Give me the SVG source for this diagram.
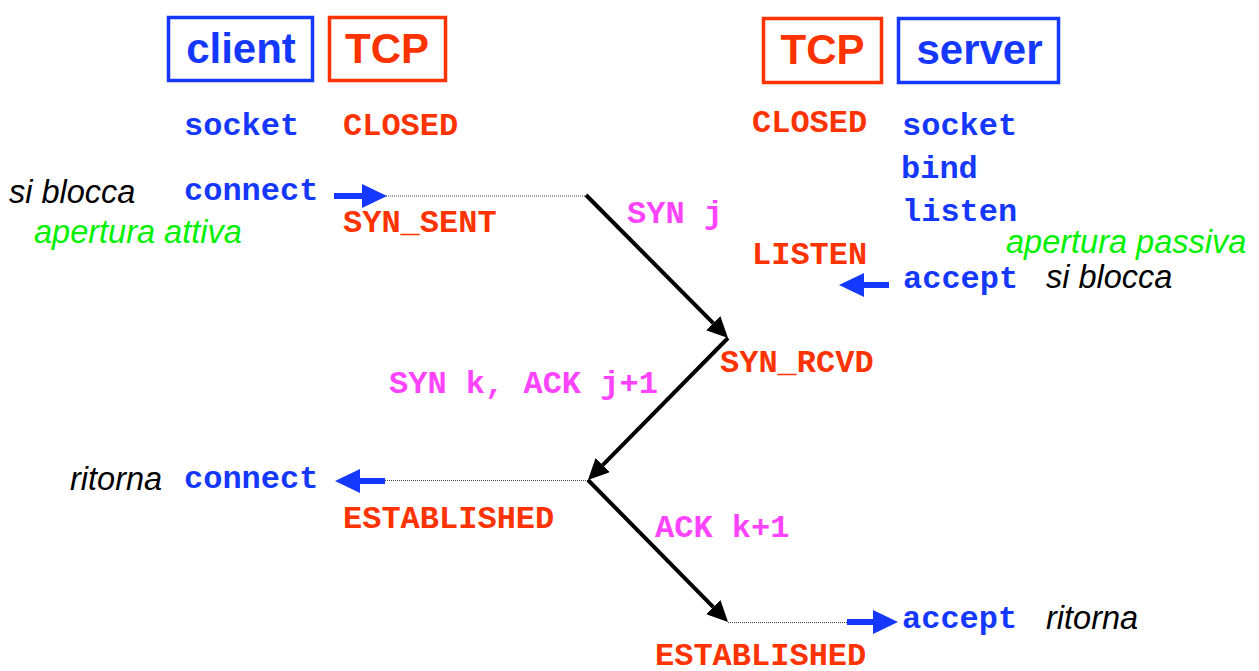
<svg xmlns="http://www.w3.org/2000/svg" width="1259" height="671" viewBox="0 0 1259 671">
  <style>
    .box { fill: none; stroke-width: 3.5; }
    .blue { fill: #1438ff; }
    .red { fill: #ff3300; }
    .pink { fill: #ff44ff; }
    .title { font-family: "Liberation Sans", Arial, sans-serif; font-weight: bold; font-size: 42px; text-anchor: middle; }
    .mono { font-family: "Liberation Mono", "Courier New", monospace; font-weight: bold; font-size: 32px; }
    .note { font-family: "Liberation Sans", Arial, sans-serif; font-style: italic; font-size: 32.5px; }
    .green { fill: #00f000; }
    .msg { stroke: #000; stroke-width: 4; fill: none; marker-end: url(#headBlack); }
    .dot { stroke: #444; stroke-width: 1; stroke-dasharray: 1 1; fill: none; }
    .call { stroke: #1438ff; stroke-width: 6; fill: none; marker-end: url(#headBlue); }
  </style>
  <defs>
    <marker id="headBlack" viewBox="0 0 21 20" refX="0" refY="10" markerWidth="21" markerHeight="20" markerUnits="userSpaceOnUse" orient="auto">
      <path d="M0,0 L21,10 L0,20 z" fill="#000"/>
    </marker>
    <marker id="headBlue" viewBox="0 0 25 24" refX="0" refY="12" markerWidth="25" markerHeight="24" markerUnits="userSpaceOnUse" orient="auto">
      <path d="M0,0 L25,12 L0,24 z" fill="#1438ff"/>
    </marker>
  </defs>

  <!-- column headers -->
  <g id="client-header">
    <rect class="box" x="168.5" y="17.5" width="144" height="63" stroke="#1438ff"/>
    <text class="title blue" x="241" y="63">client</text>
  </g>
  <g id="client-tcp-header">
    <rect class="box" x="329.5" y="17.5" width="116" height="63" stroke="#ff3300"/>
    <text class="title red" x="387" y="63">TCP</text>
  </g>
  <g id="server-tcp-header">
    <rect class="box" x="763.5" y="18.5" width="118" height="64" stroke="#ff3300"/>
    <text class="title red" x="822.5" y="64">TCP</text>
  </g>
  <g id="server-header">
    <rect class="box" x="898.5" y="18.5" width="160" height="64" stroke="#1438ff"/>
    <text class="title blue" x="979.5" y="64">server</text>
  </g>

  <!-- client side calls and states -->
  <g id="client-calls">
    <text class="mono blue" x="184" y="135">socket</text>
    <text class="mono blue" x="184" y="200">connect</text>
    <text class="mono blue" x="184" y="488">connect</text>
    <text class="note" x="9" y="203">si blocca</text>
    <text class="note green" x="34" y="243">apertura attiva</text>
    <text class="note" x="70" y="490">ritorna</text>
  </g>
  <g id="client-states">
    <text class="mono red" x="343" y="135">CLOSED</text>
    <text class="mono red" x="343" y="232">SYN_SENT</text>
    <text class="mono red" x="343" y="528">ESTABLISHED</text>
  </g>

  <!-- server side calls and states -->
  <g id="server-calls">
    <text class="mono blue" x="902" y="135">socket</text>
    <text class="mono blue" x="901" y="178">bind</text>
    <text class="mono blue" x="902" y="221">listen</text>
    <text class="mono blue" x="903" y="288">accept</text>
    <text class="mono blue" x="902" y="628">accept</text>
    <text class="note green" x="1006" y="253">apertura passiva</text>
    <text class="note" x="1046" y="288">si blocca</text>
    <text class="note" x="1046" y="629">ritorna</text>
  </g>
  <g id="server-states">
    <text class="mono red" x="752" y="132">CLOSED</text>
    <text class="mono red" x="752" y="264">LISTEN</text>
    <text class="mono red" x="720" y="372">SYN_RCVD</text>
    <text class="mono red" x="655" y="665">ESTABLISHED</text>
  </g>

  <!-- segment labels -->
  <g id="segment-labels">
    <text class="mono pink" x="627" y="223">SYN j</text>
    <text class="mono pink" x="389" y="393">SYN k, ACK j+1</text>
    <text class="mono pink" x="655" y="537">ACK k+1</text>
  </g>

  <!-- connectors -->
  <g id="connectors">
    <!-- application calls -->
    <line class="call" x1="334" y1="196" x2="362" y2="196"/>
    <line class="call" x1="385" y1="481" x2="360" y2="481"/>
    <line class="call" x1="889" y1="285" x2="864" y2="285"/>
    <line class="call" x1="847" y1="622" x2="873" y2="622"/>
    <!-- timing guides -->
    <line class="dot" x1="386" y1="196" x2="586" y2="196"/>
    <line class="dot" x1="385" y1="480.5" x2="588" y2="480.5"/>
    <line class="dot" x1="728" y1="622.5" x2="847" y2="622.5"/>
    <!-- three-way handshake segments -->
    <line class="msg" x1="586" y1="195" x2="713.2" y2="323.1"/>
    <line class="msg" x1="728" y1="338" x2="602.7" y2="465.1"/>
    <line class="msg" x1="588" y1="480" x2="713.3" y2="607.1"/>
  </g>
</svg>
